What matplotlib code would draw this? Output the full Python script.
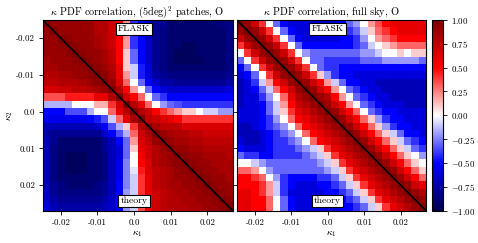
"""Correlation matrices of kappa PDF bins: patches vs full sky."""

import numpy as np
import matplotlib
matplotlib.use('Agg')
import matplotlib.pyplot as plt
import matplotlib.transforms as mtransforms

plt.rcParams['font.family'] = 'serif'
plt.rcParams['font.serif'] = ['cmr10']
plt.rcParams['mathtext.fontset'] = 'cm'
plt.rcParams['axes.unicode_minus'] = False

# Bin edges in kappa (26 bins of width 0.002).
kappa_edges = np.round(np.arange(-0.025, 0.0275, 0.002), 3)
tick_values = [-0.02, -0.01, 0.0, 0.01, 0.02]
tick_labels = ['-0.02', '-0.01', '0.0', '0.01', '0.02']
cbar_ticks = [-1.0, -0.75, -0.5, -0.25, 0.0, 0.25, 0.5, 0.75, 1.0]
cbar_labels = [r'$-1.00$', r'$-0.75$', r'$-0.50$', r'$-0.25$', r'$0.00$',
               r'$0.25$', r'$0.50$', r'$0.75$', r'$1.00$']

# Correlation coefficients x10, rows = kappa_2 bins (top to bottom),
# columns = kappa_1 bins. Upper triangle FLASK, lower triangle theory.
patch_corr = [
    [10, 9, 9, 9, 9, 9, 9, 8, 8, 7, 5, 2, -4, -5, -6, -8, -8, -9, -9, -9, -9, -9, -9, -9, -8.5, -8.5],
    [9, 10, 9, 9, 9, 9, 9, 8, 8, 7, 5, 2, -4, -5, -6.5, -8, -8.5, -9, -9, -9, -9, -9, -9, -9, -9, -8.5],
    [9, 9, 10, 9.5, 9, 9, 9, 8.5, 8, 7, 5, 2, -4, -5, -6.5, -8, -8.5, -9, -9, -9, -9, -9, -9, -9, -9, -8.5],
    [9, 9, 9.5, 10, 9.5, 9, 9, 8.5, 8, 7, 5, 2, -4, -5, -6.5, -8, -8.5, -9, -9, -9.5, -9.5, -9, -9, -9, -9, -8.5],
    [9, 9, 9, 9.5, 10, 9.5, 9, 9, 8.5, 7.5, 5, 1, -3, -5, -6.5, -8, -8.5, -9, -9.5, -9.5, -9.5, -9, -9, -9, -9, -8.5],
    [8.5, 9, 9, 9, 9.5, 10, 9.5, 9, 8.5, 7.5, 5, 1, -3, -5, -6.5, -8, -8.5, -9, -9.5, -9.5, -9.5, -9.5, -9, -9, -9, -8.5],
    [8.5, 8.5, 9, 9, 9, 9.5, 10, 9.5, 9, 8, 6, 1, -1, -4.5, -6, -8, -8.5, -9, -9, -9, -9, -9, -9, -9, -9, -8.5],
    [8, 8, 8.5, 8.5, 9, 9, 9.5, 10, 9.5, 8.5, 6, 2, -1, -4.5, -6, -7.5, -8, -8.5, -8.5, -8.5, -8.5, -8.5, -8.5, -8.5, -8.5, -8],
    [7.5, 7.5, 8, 8, 8, 8.5, 9, 9.5, 10, 9, 6.5, 3, 0, -3, -5, -6.5, -7.5, -7.5, -8, -8, -8, -8, -8, -8, -8, -7.5],
    [6.5, 6.5, 7, 7, 7.5, 7.5, 8, 8.5, 9, 10, 8, 5, 2, 0, -3, -5, -6, -6.5, -6.5, -6.5, -6.5, -6.5, -6.5, -6.5, -6.5, -6],
    [3.5, 3.5, 3.5, 4.5, 4.5, 4.5, 4.5, 6, 6, 8, 10, 7, 5, 3, 0, -3, -4, -5, -5, -5, -5, -5, -5, -5, -5, -5],
    [-1.5, -1.5, -1.5, -1.5, 0, 0, 0, 1.5, 1.5, 4, 7, 10, 8, 6, 3, 0, -2, -3, -3.5, -4, -4, -4, -4, -4, -4, -4],
    [-5, -5, -5, -3.5, -3.5, -3.5, -1.5, 0, 0, 3, 6, 8, 10, 8, 7, 5, 4, 3, 2, 1, 1, 0, -1, -1, -2, -2],
    [-5.5, -5.5, -5.5, -5.5, -5.5, -5.5, -5, -4.5, -3.5, -1, 3, 6, 8.5, 10, 7.5, 7, 6.5, 6, 5, 4, 4, 4, 4, 4, 4, 4],
    [-7, -7, -7, -7, -7, -7, -7, -6.5, -5, -3.5, -1.5, 1, 4, 8, 10, 8.5, 7.5, 7.5, 7.5, 6.5, 6.5, 6.5, 6.5, 6.5, 6.5, 6.5],
    [-7.5, -8, -8, -8, -8, -8, -8, -8, -6.5, -5, -3.5, -1.5, 3, 7, 8.5, 10, 9, 8.5, 8, 8, 7.5, 7.5, 7, 7, 7, 7],
    [-7, -8, -9, -9, -9, -9, -9, -9, -8, -7, -5, -3, 2, 6.5, 7.5, 9, 10, 9, 8.5, 8.5, 8, 8, 7.5, 7.5, 7.5, 7.5],
    [-7, -8.5, -9, -9, -9, -9, -9, -9, -8, -7, -6, -3, 1, 6, 7, 8, 9, 10, 9, 9, 8.5, 8.5, 8, 8, 8, 8],
    [-7, -8.5, -9, -9.5, -9.5, -9.5, -9, -9, -8.5, -7, -6, -3, 0, 5.5, 7, 8, 8.5, 9, 10, 9.5, 9, 9, 8.5, 8.5, 8.5, 8],
    [-7, -8.5, -9, -9.5, -9.5, -9.5, -9, -9, -8.5, -7, -5.5, -2.5, 0, 5, 6.5, 8, 8.5, 9, 9.5, 10, 9.5, 9, 9, 8.5, 8.5, 8.5],
    [-7, -8.5, -9, -9.5, -9.5, -9.5, -9, -9, -8.5, -7, -5.5, -2.5, -0.5, 4.5, 6.5, 7.5, 8, 8.5, 9, 9.5, 10, 9.5, 9, 9, 8.5, 8.5],
    [-7, -8.5, -9, -9, -9, -9, -9, -9, -8.5, -7, -5.5, -2.5, -1, 4, 6, 7.5, 8, 8.5, 9, 9, 9.5, 10, 9.5, 9, 9, 8.5],
    [-7, -8, -8.5, -9, -9, -9, -9, -8.5, -8, -7, -5, -2.5, -1, 4, 6, 7.5, 8, 8.5, 8.5, 9, 9, 9.5, 10, 9.5, 9, 9],
    [-6.5, -8, -8.5, -8.5, -8.5, -8.5, -8.5, -8.5, -8, -7, -5, -2, -1, 4, 6, 7, 7.5, 8, 8.5, 8.5, 9, 9, 9.5, 10, 9.5, 9],
    [-6.5, -7.5, -8, -8, -8, -8, -8, -8, -7.5, -6.5, -5, -2, -1, 3.5, 5.5, 7, 7.5, 8, 8, 8.5, 8.5, 9, 9, 9.5, 10, 9.5],
    [-6, -7, -7.5, -7.5, -7.5, -7.5, -7.5, -7.5, -7, -6.5, -5, -2, -1, 3.5, 5.5, 7, 7.5, 8, 8, 8, 8.5, 8.5, 9, 9, 9.5, 10],
]

fullsky_corr = [
    [10, 9, 7, 4, 0, -3, -5, -6, -6, -6, -6, -6, -6, -6, -5, -3, -2, 0, 2, 3.5, 5, 6, 6, 6, 6, 6],
    [9, 10, 9, 7, 4, 0, -3, -5, -6, -6, -6, -6, -6, -6, -5, -4, -3, -1, 1, 3, 4, 5, 6, 6, 6, 6],
    [7, 9, 10, 9, 7, 4, 0, -3, -5, -6, -6, -6, -6, -6, -5, -5, -4, -2, 0, 2, 3, 4, 5, 5, 5, 5],
    [4, 7, 9, 10, 9, 7, 4, 0, -3, -5, -5, -5, -5, -5, -5, -5, -4, -3, -1, 0, 1, 2, 3, 3, 3, 3],
    [0, 4, 7, 9, 10, 9, 7, 4, 0, -2, -3, -3, -3, -3, -3, -3, -3, -2, -2, -1, 0, 0, 1, 0, 1, 1],
    [-3, 0, 4, 7, 9, 10, 9, 7, 4, 0, -3, -3, -4, -4, -4, -4, -4, -3, -3, -3, -2, -2, -2, -2, -2, -3],
    [-5, -3, 0, 4, 7, 9, 10, 9, 7, 4, 0, -3, -4, -4, -5, -5, -5, -5, -5, -5, -5, -5, -5, -5, -5, -5],
    [-6, -5, -3, 0, 4, 7, 9, 10, 9, 7, 4, 1, -2, -4, -5, -5, -6, -6, -6, -6, -6, -6, -6, -6, -6, -6],
    [-7, -6, -4, -1, 2, 5, 7, 9, 10, 9, 7, 5, 2, -1, -3, -5, -5, -6, -6, -7, -7, -7, -7, -7, -7, -7],
    [-7, -6, -5, -3, -1, 3, 5, 7, 9, 10, 9, 7, 5, 2, 0, -3, -4, -5, -6, -6, -7, -7, -7, -7, -7, -7],
    [-7, -6, -6, -4, -2, 0, 3, 6, 8, 9, 10, 9, 8, 5, 2, 0, -3, -4, -5, -6, -6, -7, -7, -7, -7, -7],
    [-7, -6, -6, -5, -3, -1, 2, 5, 7, 8, 9, 10, 9, 7, 5, 2, 0, -3, -4, -5, -6, -6, -6, -7, -7, -7],
    [-6, -6, -6, -5, -3, -1, 1, 4, 6, 7, 8, 9, 10, 9, 7, 5, 3, 0, -3, -4, -5, -5, -6, -6, -6, -6],
    [-6, -6, -6, -5, -4, -2, 0, 3, 5, 6, 7, 8, 9, 10, 9, 7, 5, 3, 1, -2, -4, -5, -5, -6, -6, -6],
    [-7, -7, -6, -5, -4, -3, -2, 0, 3, 5, 6, 7, 8, 9, 10, 9, 7, 5, 3, 1, -2, -4, -5, -5, -6, -6],
    [-7, -7, -7, -6, -5, -4, -3, -2, 0, 3, 5, 6, 7, 8, 9, 10, 9, 7, 5, 3, 1, -1, -3, -5, -5, -6],
    [-6, -7, -7, -6, -5, -4, -4, -3, -2, 0, 3, 5, 6, 7, 8, 9, 10, 9, 7, 5, 3, 1, -1, -3, -4, -5],
    [-5, -6, -6, -6, -5, -4, -4, -4, -3, -2, -1, 1, 4, 6, 7, 8, 9, 10, 9, 7, 5, 3, 1, -1, -3, -4],
    [-3, -4, -4, -5, -5, -4, -4, -4, -4, -3, -2, -1, 1, 4, 6, 7, 8, 9, 10, 9, 7, 5, 3, 1, 0, -2],
    [0, 0, -1, -2, -3, -3, -3, -3, -3, -3, -3, -2, -1, 1, 4, 6, 7, 8, 9, 10, 9, 7, 5, 3, 1, 0],
    [3, 3, 2, 0, -2, -3, -3, -3, -3, -3, -3, -3, -2, -1, 1, 4, 6, 7, 8, 9, 10, 9, 7, 5, 3, 1],
    [5, 5, 4, 3, 0, -2, -4, -5, -5, -5, -5, -4, -4, -3, -1, 1, 4, 6, 7, 8, 9, 10, 9, 7, 5, 3],
    [5, 5, 5, 4, 2, -1, -4, -5, -6, -6, -6, -5, -5, -4, -3, -1, 1, 4, 6, 7, 8, 9, 10, 9, 7, 6],
    [6, 6, 5, 4, 2, -1, -4, -6, -6, -6, -6, -6, -5, -5, -4, -3, -1, 1, 4, 6, 7, 8, 9, 10, 9, 8],
    [6, 6, 5, 5, 3, 0, -3, -5, -6, -6, -6, -6, -6, -5, -5, -4, -3, -1, 1, 4, 6, 7, 8, 9, 10, 9],
    [6, 6, 5, 5, 3, 0, -3, -5, -6, -6, -6, -6, -6, -6, -5, -5, -4, -3, -1, 1, 4, 6, 7, 8, 9, 10],
]


def draw_matrix(ax, corr, title):
    """Draw one correlation matrix with its diagonal and labels."""
    mesh = ax.pcolormesh(kappa_edges, kappa_edges, np.array(corr) / 10.0,
                         cmap='seismic', vmin=-1, vmax=1)
    # Diagonal separating FLASK (upper) from theory (lower).
    ax.plot([kappa_edges[0], kappa_edges[-1]],
            [kappa_edges[0], kappa_edges[-1]], color='black', lw=1.2)
    ax.set_xlim(kappa_edges[0], kappa_edges[-1])
    ax.set_ylim(kappa_edges[-1], kappa_edges[0])
    ax.set_xticks(tick_values)
    ax.set_xticklabels(tick_labels)
    ax.set_yticks(tick_values)
    ax.set_yticklabels(tick_labels)
    ax.tick_params(labelsize=6.4, length=3, width=0.6, pad=2.5)
    ax.set_xlabel(r'$\kappa_1$', fontsize=7, labelpad=1)
    ax.set_title(title, fontsize=7.4, pad=4)
    trans = mtransforms.blended_transform_factory(ax.transData, ax.transAxes)
    box = dict(boxstyle='square,pad=0.22', fc='white', ec='black', lw=0.8)
    ax.text(0.0, 0.953, 'FLASK', transform=trans, ha='center', va='center',
            fontsize=7, bbox=box)
    ax.text(0.0, 0.05, 'theory', transform=trans, ha='center', va='center',
            fontsize=7, bbox=box)
    return mesh


fig = plt.figure(figsize=(4.78, 2.43), dpi=100)
ax1 = fig.add_axes([0.0893, 0.133, 0.3975, 0.785])
ax2 = fig.add_axes([0.4952, 0.133, 0.396, 0.785])
cax = fig.add_axes([0.9031, 0.133, 0.0236, 0.785])

draw_matrix(ax1, patch_corr,
            r'$\kappa$ PDF correlation, (5deg)$^2$ patches, O')
mesh = draw_matrix(ax2, fullsky_corr, r'$\kappa$ PDF correlation, full sky, O')
ax1.set_ylabel(r'$\kappa_2$', fontsize=7, labelpad=1)
ax2.tick_params(labelleft=False)

cbar = fig.colorbar(mesh, cax=cax, ticks=cbar_ticks)
cbar.ax.set_yticklabels(cbar_labels)
cbar.ax.tick_params(labelsize=6.4, length=3, width=0.6, pad=2.5)
cbar.outline.set_linewidth(0.8)

fig.savefig('out.png', dpi=100)
